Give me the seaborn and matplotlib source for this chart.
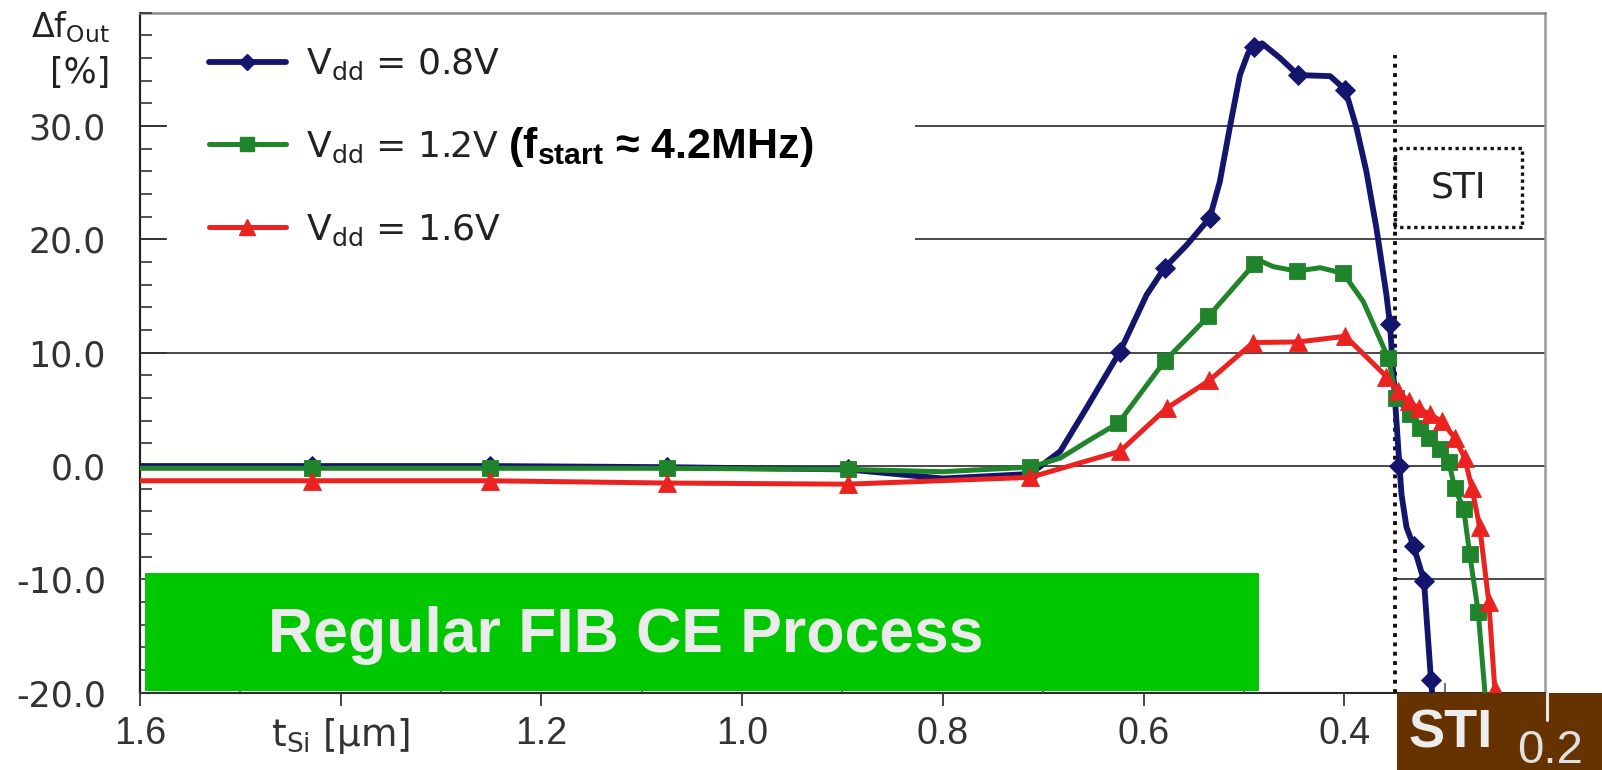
import matplotlib
matplotlib.use("Agg")
import matplotlib.pyplot as plt
from matplotlib.lines import Line2D
from matplotlib.patches import Rectangle
from matplotlib.ticker import FixedLocator, MultipleLocator
import seaborn as sns

# Relative shift of the output frequency (%) against silicon thickness t_Si (um)
# for three supply voltages. Each curve is traced point by point; the *_samples
# lists give the indices of the points that carry a marker.
vdd08_tsi = [1.60, 1.429, 1.251, 1.075, 0.895, 0.800, 0.713, 0.683, 0.657, 0.6235,
             0.597, 0.579, 0.557, 0.534, 0.524, 0.514, 0.504, 0.496, 0.490, 0.482,
             0.464, 0.446, 0.414, 0.399, 0.388, 0.378, 0.368, 0.358, 0.3545, 0.345,
             0.343, 0.338, 0.331, 0.3206, 0.3136, 0.311]
vdd08_shift = [0.0, 0.0, 0.0, -0.1, -0.3, -1.1, -0.7, 1.3, 5.1, 10.1,
               15.1, 17.5, 19.5, 21.9, 25.1, 29.9, 34.5, 36.4, 37.0, 37.3,
               36.0, 34.5, 34.4, 33.2, 29.9, 26.0, 21.0, 15.1, 12.5, 0.0,
               -2.5, -5.4, -7.05, -10.1, -18.9, -21.5]
vdd08_samples = [1, 2, 3, 4, 6, 9, 11, 13, 18, 21, 23, 28, 29, 32, 33, 34]

vdd12_tsi = [1.60, 1.429, 1.251, 1.075, 0.895, 0.800, 0.713, 0.683, 0.650, 0.625,
             0.579, 0.5355, 0.490, 0.486, 0.471, 0.4475, 0.424, 0.401, 0.381, 0.368,
             0.356, 0.348, 0.335, 0.325, 0.316, 0.305, 0.296, 0.290, 0.281, 0.275,
             0.2665, 0.258]
vdd12_shift = [-0.2, -0.2, -0.2, -0.2, -0.3, -0.5, -0.1, 0.7, 2.5, 3.8,
               9.25, 13.2, 17.8, 18.2, 17.6, 17.2, 17.5, 17.0, 14.5, 11.9,
               9.5, 6.0, 4.55, 3.4, 2.5, 1.5, 0.4, -1.9, -3.8, -7.8,
               -12.9, -22.0]
vdd12_samples = [1, 2, 3, 4, 6, 9, 10, 11, 12, 15, 17, 20, 21, 22, 23, 24, 25,
                 26, 27, 28, 29, 30]

vdd16_tsi = [1.60, 1.429, 1.251, 1.075, 0.895, 0.713, 0.6235, 0.577, 0.5345, 0.4907,
             0.446, 0.399, 0.358, 0.346, 0.336, 0.326, 0.315, 0.303, 0.290, 0.280,
             0.273, 0.265, 0.256, 0.250]
vdd16_shift = [-1.3, -1.3, -1.3, -1.5, -1.6, -1.0, 1.3, 5.1, 7.55, 10.9,
               10.95, 11.45, 7.9, 6.6, 5.7, 5.1, 4.55, 3.96, 2.5, 0.7,
               -1.9, -5.4, -12.0, -19.7]
vdd16_samples = list(range(1, 24))

series_labels = [r"V$_{\mathrm{dd}}$ = 0.8V", r"V$_{\mathrm{dd}}$ = 1.2V",
                 r"V$_{\mathrm{dd}}$ = 1.6V"]
series_colors = ["#14166E", "#1F842A", "#EA2220"]
series_markers = ["D", "s", "^"]

ytick_values = [30, 20, 10, 0, -10, -20]
ytick_labels = ["30.0", "20.0", "10.0", "0.0", "-10.0", "-20.0"]
xtick_values = [1.6, 1.4, 1.2, 1.0, 0.8, 0.6, 0.4, 0.2]
xtick_labels = ["1.6", r"t$_{\mathrm{Si}}$ [µm]", "1.2", "1.0", "0.8", "0.6", "0.4", ""]
sti_boundary = 0.349      # t_Si where the STI region begins
sti_box = (0.223, 21.1, 28.1)   # right edge, bottom, top of the STI tag

sns.set_theme(style="white")
plt.rcParams["font.family"] = ["DejaVu Sans"]
plt.rcParams["mathtext.fontset"] = "custom"
plt.rcParams["mathtext.rm"] = "DejaVu Sans"
plt.rcParams["mathtext.it"] = "DejaVu Sans:italic"
plt.rcParams["mathtext.bf"] = "Liberation Sans:bold"
plt.rcParams["axes.unicode_minus"] = False

W, H = 1602, 770
fig = plt.figure(figsize=(W / 100, H / 100), dpi=100, facecolor="white")
ax = fig.add_axes([140 / W, (H - 692.7) / H, 1405 / W, 680 / H])
ax.set_facecolor("white")
ax.set_axisbelow(False)

ax.set_xlim(1.6, 0.2)
ax.set_ylim(-20, 40)

# horizontal reference lines; the -10 line is only drawn inside the STI region
sti_frac = (1.6 - sti_boundary) / 1.4
for yv in ytick_values[:-1]:
    start = sti_frac if yv == -10 else 0.0
    ax.axhline(yv, xmin=start, xmax=1.0, color="#2a2a2a", lw=1.2, zorder=0.8)

# curves
series = [
    (vdd08_tsi, vdd08_shift, vdd08_samples, 4.2, 10.0, 3.0),
    (vdd12_tsi, vdd12_shift, vdd12_samples, 3.6, 12.0, 3.2),
    (vdd16_tsi, vdd16_shift, vdd16_samples, 3.6, 13.5, 3.4),
]
for (xs, ys, marks, lw, ms, z), color, marker in zip(series, series_colors, series_markers):
    sns.lineplot(x=xs, y=ys, sort=False, estimator=None, ax=ax, color=color,
                 linewidth=lw, marker=marker, markersize=ms, markevery=marks,
                 markeredgecolor=color, markeredgewidth=0.6, zorder=z)

# STI boundary and its tag
ax.plot([sti_boundary, sti_boundary], [-20, 36.3], color="#111111", lw=2.8,
        ls=(0, (1.0, 1.4)), zorder=2.6)
ax.add_patch(Rectangle((sti_box[0], sti_box[1]), sti_boundary - sti_box[0],
                       sti_box[2] - sti_box[1], fill=False, ec="#111111", lw=2.4,
                       ls=(0, (1.0, 1.1)), zorder=2.6))
ax.text((sti_boundary + sti_box[0]) / 2, (sti_box[1] + sti_box[2]) / 2, "STI",
        ha="center", va="center", fontsize=26, color="#222222", zorder=2.7)

# white panel behind the legend
ax.add_patch(Rectangle((166 / W, 1 - 262 / H), (915 - 166) / W, (262 - 22) / H,
                       transform=fig.transFigure, facecolor="white", edgecolor="none",
                       zorder=1.5))

handles = [Line2D([], [], color=c, lw=lw, marker=m, markersize=ms * 0.85,
                  markeredgecolor=c)
           for c, m, (_, _, _, lw, ms, _) in zip(series_colors, series_markers, series)]
leg = ax.legend(handles, series_labels, loc="upper left",
                bbox_to_anchor=(209 / W, 1 - 47 / H), bbox_transform=fig.transFigure,
                frameon=False, fontsize=26, handlelength=2.13, handletextpad=0.55,
                labelspacing=1.31, borderpad=0, borderaxespad=0, numpoints=1)
for t in leg.get_texts():
    t.set_color("#222222")

# ticks
ax.yaxis.set_major_locator(FixedLocator(ytick_values))
ax.set_yticklabels(ytick_labels)
ax.yaxis.set_minor_locator(MultipleLocator(2))
ax.xaxis.set_major_locator(FixedLocator(xtick_values))
ax.set_xticklabels(xtick_labels)
ax.xaxis.set_minor_locator(MultipleLocator(0.1))
ax.tick_params(axis="y", which="major", direction="in", length=19.5, width=1.2,
               color="#333333", pad=24.5, labelsize=25, labelcolor="#333333",
               left=True, right=False)
ax.tick_params(axis="y", which="minor", direction="in", length=8.6, width=1.2,
               color="#333333", left=True, right=False)
ax.tick_params(axis="x", which="major", direction="out", length=9.5, width=1.4,
               color="#444444", pad=7, labelsize=27, labelcolor="#333333",
               bottom=True, top=False)
ax.tick_params(axis="x", which="minor", direction="in", length=7, width=1.1,
               color="#444444", bottom=True, top=False)
for lbl in ax.get_xticklabels():
    lbl.set_fontfamily("Liberation Sans")
xl = ax.get_xticklabels()[1]
xl.set_fontfamily("DejaVu Sans")
xl.set_fontsize(27)

for side, col, lw in [("left", "#222222", 1.6), ("bottom", "#2b2b2b", 1.5),
                      ("top", "#8a8a8a", 1.8), ("right", "#9a9a9a", 1.8)]:
    ax.spines[side].set_visible(True)
    ax.spines[side].set_color(col)
    ax.spines[side].set_linewidth(lw)

# quantity on the vertical axis
fig.text(110 / W, 1 - 37 / H, r"Δf$_{\mathrm{Out}}$", ha="right", va="baseline",
         fontsize=24, color="#222222")
fig.text(110 / W, 1 - 83 / H, "[%]", ha="right", va="baseline", fontsize=25,
         color="#222222")

fig.text(508 / W, 1 - 158 / H, r"(f$_{\mathbf{start}}$ ≈ 4.2MHz)", ha="left",
         va="baseline", fontsize=31, fontweight="bold", family="Liberation Sans",
         color="black")

# process banner
ax.add_patch(Rectangle((0.485, -19.85), 1.595 - 0.485, 10.45, facecolor="#00C800",
                       edgecolor="none", zorder=6))
fig.text(268 / W, 1 - 652 / H, "Regular FIB CE Process", ha="left", va="baseline",
         fontsize=45, fontweight="bold", family="Liberation Sans", color="#EBEBEB",
         zorder=7)

# STI label block under the axis
fig.add_artist(Rectangle((1397 / W, 0), (W - 1397) / W, 77 / H,
                         transform=fig.transFigure, facecolor="#663300",
                         edgecolor="none", zorder=10))
fig.add_artist(Line2D([1547 / W, 1547 / W], [1 - 693 / H, 1 - 720 / H],
                      transform=fig.transFigure, color="#E6E6E6", lw=2.2, zorder=11))
fig.text(1408 / W, 1 - 747 / H, "STI", ha="left", va="baseline", fontsize=39,
         fontweight="bold", family="Liberation Sans", color="#EDEDED", zorder=12)
fig.text(1550 / W, 1 - 763 / H, "0.2", ha="center", va="baseline", fontsize=34,
         family="Liberation Sans", color="#E0E0E0", zorder=12)

fig.savefig("out.png", dpi=100, facecolor="white")
